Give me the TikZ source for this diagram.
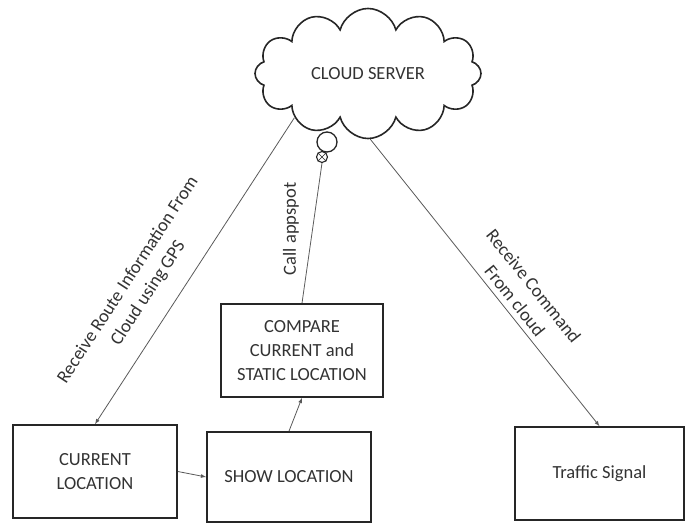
\documentclass[tikz,border=0pt]{standalone}
\usepackage{fontspec}
\setmainfont{Carlito}
\usetikzlibrary{shapes.symbols}

\begin{document}
\begin{tikzpicture}[x=1pt,y=-1pt,
  every node/.style={font=\fontsize{18.5}{24}\selectfont, text=black!80},
  box/.style={draw=black!85, line width=1.7pt, minimum height=93pt, inner sep=0pt, align=center},
  link/.style={black!65, line width=.8pt}]
\useasboundingbox (0,0) rectangle (691,524);
% thought bubble under the cloud
\draw[black!85, line width=1.3pt, fill=white] (327,142) circle (10);
\node[cloud, cloud puffs=12, cloud ignores aspect, draw=black!85, line width=1.6pt, fill=white, minimum width=226pt, minimum height=130pt] (srv) at (368,73.5) {CLOUD SERVER};
\node[circle, draw=black!85, line width=1.1pt, fill=white, minimum size=11pt, inner sep=0pt] (dot) at (322,157) {};
\draw[black!85, line width=.6pt] (dot.45) -- (dot.225) (dot.135) -- (dot.315);
% boxes
\node[box, minimum width=164pt] (cur) at (95,471.5) {CURRENT\\LOCATION};
\node[box, minimum width=164pt, minimum height=90pt] (show) at (289,477) {SHOW LOCATION};
\node[box, minimum width=162pt] (cmp) at (302,350.5) {COMPARE\\CURRENT and\\STATIC LOCATION};
\node[box, minimum width=169pt] (ts) at (599.5,473.5) {Traffic Signal};
% links
\draw[link, -latex] (srv.211) -- (cur.north) node[pos=.62, sloped, above=15pt, align=center] {Receive Route Information From\\Cloud using GPS};
\draw[link] (cmp.north) -- (dot.south) node[pos=.53, rotate=90, anchor=south, yshift=10pt] {Call appspot};
\draw[link, -latex] (show.north) -- (cmp.south);
\draw[link, -latex] (cur.east) -- (show.west);
\draw[link, -latex] (srv.272) -- (ts.north) node[pos=.59, sloped, above=2pt, align=center] {Receive Command\\From cloud};
\end{tikzpicture}
\end{document}
